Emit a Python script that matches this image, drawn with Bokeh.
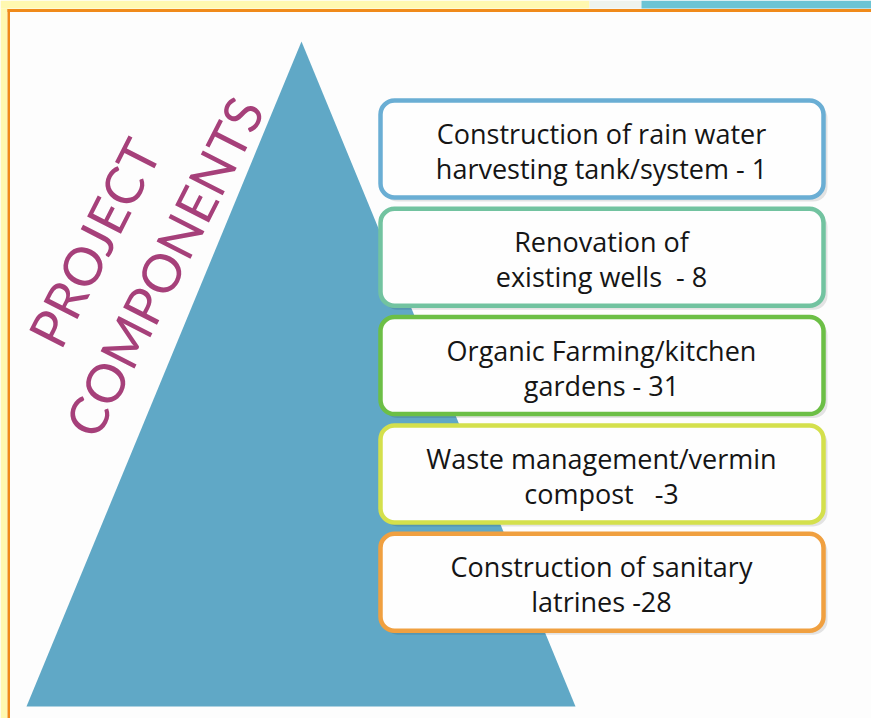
from bokeh.plotting import figure
from bokeh.models import Range1d, ColumnDataSource
from bokeh.core.properties import value
from bokeh.embed import file_html
from bokeh.resources import INLINE
import math

# ---- data ----
line1 = ["Construction of rain water", "Renovation of", "Organic Farming/kitchen",
         "Waste management/vermin", "Construction of sanitary"]
line2 = ["harvesting tank/system", "existing wells", "gardens", "compost", "latrines"]
seps = [" - ", "\u00a0\u00a0- ", " - ", "\u00a0\u00a0\u00a0-", " -"]
counts = [1, 8, 31, 3, 28]
border_colors = ["#6aaed4", "#72c3a0", "#6cbf46", "#d4e04c", "#f0a040"]
title_words = ["PROJECT", "COMPONENTS"]

W, H = 871, 718
p = figure(width=W, height=H, output_backend="svg", toolbar_location=None,
           x_range=Range1d(0, W), y_range=Range1d(H, 0),
           min_border=0)
p.axis.visible = False
p.grid.visible = False
p.outline_line_color = None
p.background_fill_color = "#fdfdfd"
p.border_fill_color = "#fdfdfd"

# frame: top strips, left strip and orange border
p.quad(left=[0, 589, 641], right=[589, 641, 871], top=[0, 0, 0], bottom=[8, 8, 8],
       fill_color=["#fff8b0", "#eef3ee", "#6cc4d4"], line_color=None)
p.quad(left=[0], right=[7], top=[8], bottom=[718], fill_color="#fff8b0", line_color=None)
p.quad(left=[7], right=[871], top=[8.5], bottom=[11.5], fill_color="#f08a1a", line_color=None)
p.quad(left=[7], right=[9.5], top=[8.5], bottom=[718], fill_color="#f08a1a", line_color=None)

# pyramid
p.patch(x=[301, 26, 575], y=[41, 706, 706], fill_color="#60a8c6", line_color=None)

# boxes
n = len(counts)
tops = [100 + i * 108.3 for i in range(n)]
bots = [t + 97 for t in tops]
src = ColumnDataSource(dict(
    top=tops, bottom=bots, left=[380] * n, right=[823] * n,
    stop=[t + 4 for t in tops], sbot=[b + 4 for b in bots],
    sleft=[383] * n, sright=[827] * n,
    color=border_colors,
    l1=line1, l2=[a + s + str(c) for a, s, c in zip(line2, seps, counts)],
    y1=[t + 33 for t in tops], y2=[t + 68 for t in tops], x=[601] * n,
))
p.quad(left="sleft", right="sright", top="stop", bottom="sbot", source=src,
       fill_color="#000000", fill_alpha=0.10, line_color=None, border_radius=14)
p.quad(left="left", right="right", top="top", bottom="bottom", source=src,
       fill_color="#fefefe", line_color="color", line_width=4.5, border_radius=14)
p.text(x="x", y="y1", text="l1", source=src, text_align="center", text_baseline="middle",
       text_font=value("Open Sans"), text_font_size="27px", text_color="#151515")
p.text(x="x", y="y2", text="l2", source=src, text_align="center", text_baseline="middle",
       text_font=value("Open Sans"), text_font_size="27px", text_color="#151515")

# rotated title
ang = math.radians(63)
p.text(x=[93, 163], y=[242, 266], text=title_words, angle=ang,
       text_align="center", text_baseline="middle",
       text_font=value("Lato"), text_font_size="53px", text_color="#a6407a")

open("out.html", "w").write(file_html(p, INLINE))
